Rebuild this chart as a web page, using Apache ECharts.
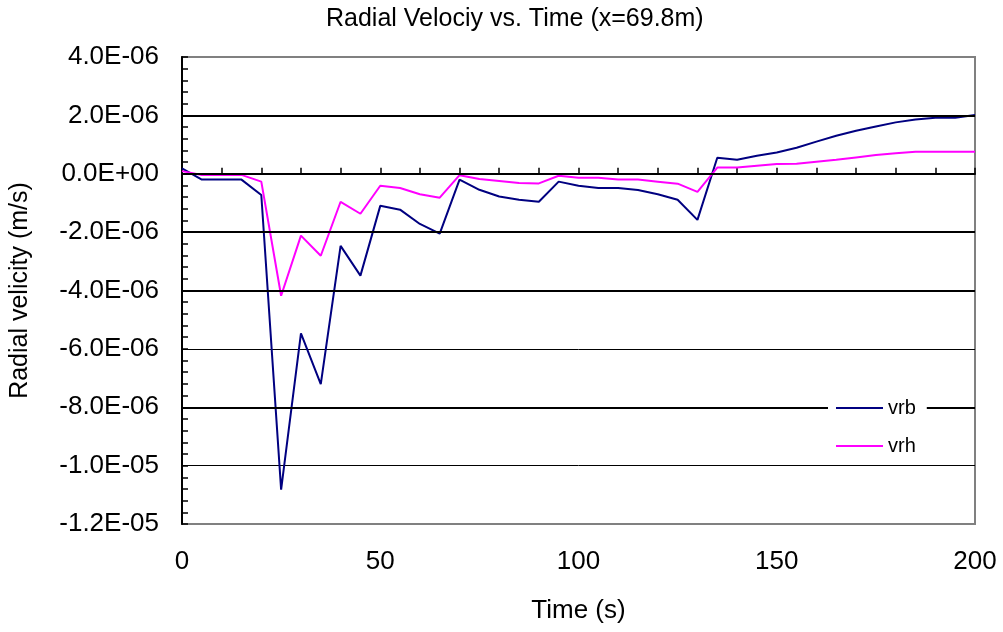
<!DOCTYPE html>
<html>
<head>
<meta charset="utf-8">
<script src="https://cdn.jsdelivr.net/npm/echarts@6/dist/echarts.min.js"></script>
<style>
html,body{margin:0;padding:0;background:#fff;}
#chart{width:1003px;height:632px;}
</style>
</head>
<body>
<div id="chart"></div>
<script>
// Time (s)
var times = [0,5,10,15,20,25,30,35,40,45,50,55,60,65,70,75,80,85,90,95,100,105,110,115,120,125,130,135,140,145,150,155,160,165,170,175,180,185,190,195,200];
// Radial velocity (m/s)
var vrb = [0.18e-6,-0.2e-6,-0.2e-6,-0.2e-6,-0.73e-6,-10.82e-6,-5.47e-6,-7.21e-6,-2.47e-6,-3.49e-6,-1.10e-6,-1.23e-6,-1.72e-6,-2.05e-6,-0.2e-6,-0.55e-6,-0.78e-6,-0.89e-6,-0.96e-6,-0.27e-6,-0.41e-6,-0.49e-6,-0.49e-6,-0.56e-6,-0.70e-6,-0.89e-6,-1.58e-6,0.55e-6,0.48e-6,0.62e-6,0.73e-6,0.89e-6,1.10e-6,1.30e-6,1.47e-6,1.62e-6,1.76e-6,1.86e-6,1.92e-6,1.92e-6,2.01e-6];
var vrh = [0.09e-6,-0.04e-6,-0.04e-6,-0.04e-6,-0.27e-6,-4.18e-6,-2.12e-6,-2.81e-6,-0.96e-6,-1.37e-6,-0.41e-6,-0.49e-6,-0.70e-6,-0.82e-6,-0.05e-6,-0.18e-6,-0.25e-6,-0.32e-6,-0.33e-6,-0.07e-6,-0.14e-6,-0.14e-6,-0.2e-6,-0.2e-6,-0.27e-6,-0.34e-6,-0.62e-6,0.21e-6,0.21e-6,0.27e-6,0.33e-6,0.34e-6,0.41e-6,0.48e-6,0.56e-6,0.64e-6,0.70e-6,0.75e-6,0.75e-6,0.75e-6,0.75e-6];
var seriesNames = ['vrb','vrh'];
// gridlines drawn heavier in the original
var heavyLines = [2e-6,0,-2e-6,-4e-6,-8e-6];

function fmtExp(v){
  var s = Number(v).toExponential(1); // e.g. "4.0e-6"
  var parts = s.split('e');
  var m = parts[0], e = parseInt(parts[1],10);
  var sign = e < 0 ? '-' : '+';
  var ea = Math.abs(e);
  return m + 'E' + sign + (ea < 10 ? '0' + ea : '' + ea);
}

var FONT = 'Liberation Sans';
var chart = echarts.init(document.getElementById('chart'), null, {renderer:'canvas'});
var option = {
  backgroundColor:'#fff',
  animation:false,
  textStyle:{fontFamily:FONT},
  title:{
    text:'Radial Velociy vs. Time (x=69.8m)',
    left:326, top:7, padding:0,
    textStyle:{fontFamily:FONT,fontSize:25,fontWeight:'normal',color:'#000'}
  },
  grid:{left:181,right:28,top:57,bottom:108,show:true,borderColor:'#808080',borderWidth:2,backgroundColor:'transparent'},
  legend:{
    orient:'vertical', left:828, top:393,
    data:seriesNames,
    icon:'rect',
    z:20, zlevel:0,
    backgroundColor:'#fff',
    padding:[5,11,5,8],
    itemWidth:47, itemHeight:2, itemGap:18,
    textStyle:{fontFamily:FONT,fontSize:20,color:'#000'}
  },
  xAxis:{
    type:'value', min:0, max:200, interval:50,
    name:'Time (s)', nameLocation:'middle', nameGap:74,
    nameTextStyle:{fontFamily:FONT,fontSize:26,color:'#000'},
    axisLine:{lineStyle:{color:'#000',width:2}},
    axisTick:{inside:true,length:6,lineStyle:{color:'#000',width:1.5}},
    minorTick:{show:true,splitNumber:5,length:6,lineStyle:{color:'#000',width:1.5}},
    axisLabel:{fontFamily:FONT,fontSize:26,color:'#000',margin:25},
    splitLine:{show:false}
  },
  yAxis:{
    type:'value', min:-12e-6, max:4e-6, interval:2e-6,
    name:'Radial velicity (m/s)', nameLocation:'middle', nameGap:149,
    nameTextStyle:{fontFamily:FONT,fontSize:25,color:'#000'},
    axisLine:{show:true,lineStyle:{color:'#000',width:2}},
    axisTick:{show:true,inside:true,length:6,lineStyle:{color:'#000',width:1.5}},
    minorTick:{show:true,splitNumber:5,length:6,lineStyle:{color:'#000',width:1.5}},
    axisLabel:{fontFamily:FONT,fontSize:26,color:'#000',margin:23,formatter:function(v){return fmtExp(v);}},
    splitLine:{show:true,showMinLine:false,showMaxLine:false,lineStyle:{color:'#000',width:1}}
  },
  series:[
    {
      name:'_gridlines', type:'line', data:[], z:1, silent:true,
      markLine:{
        silent:true, symbol:['none','none'], label:{show:false}, precision:12,
        animation:false,
        lineStyle:{color:'#000',width:2,type:'solid'},
        data:heavyLines.map(function(v){return {yAxis:v};})
      }
    },
    {
      name:seriesNames[0], type:'line', symbol:'none', showSymbol:false,
      data:times.map(function(t,i){return [t,vrb[i]];}),
      lineStyle:{color:'#000080',width:2}, itemStyle:{color:'#000080'},
      z:3
    },
    {
      name:seriesNames[1], type:'line', symbol:'none', showSymbol:false,
      data:times.map(function(t,i){return [t,vrh[i]];}),
      lineStyle:{color:'#FF00FF',width:2}, itemStyle:{color:'#FF00FF'},
      z:4
    }
  ]
};
chart.setOption(option);
</script>
</body>
</html>
